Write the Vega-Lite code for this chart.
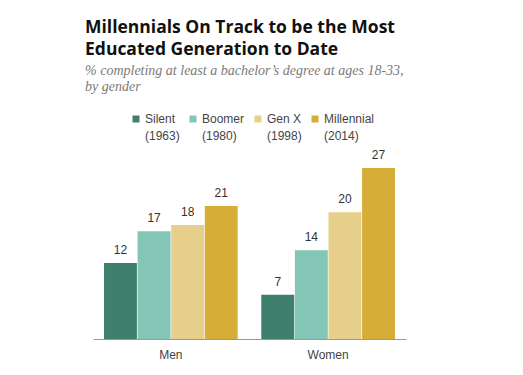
{
  "$schema": "https://vega.github.io/schema/vega-lite/v6.json",
  "width": 313,
  "height": 171,
  "autosize": "none",
  "padding": {"left": 93, "top": 168, "right": 117, "bottom": 36},
  "background": "white",
  "config": {"view": {"stroke": null}},
  "title": {
    "text": ["Millennials On Track to be the Most", "Educated Generation to Date"],
    "subtitle": ["% completing at least a bachelor’s degree at ages 18-33,", "by gender"],
    "anchor": "start",
    "frame": "group",
    "dx": -8,
    "offset": 19,
    "font": "Open Sans",
    "fontSize": 17.5,
    "fontWeight": "bold",
    "color": "#111111",
    "lineHeight": 22,
    "subtitleFont": "Liberation Serif",
    "subtitleFontStyle": "italic",
    "subtitleFontSize": 14,
    "subtitleColor": "#7a7a7a",
    "subtitleLineHeight": 16,
    "subtitlePadding": 6
  },
  "data": {
    "values": [
      {"gender": "Men", "gen": "Silent", "value": 12},
      {"gender": "Men", "gen": "Boomer", "value": 17},
      {"gender": "Men", "gen": "Gen X", "value": 18},
      {"gender": "Men", "gen": "Millennial", "value": 21},
      {"gender": "Women", "gen": "Silent", "value": 7},
      {"gender": "Women", "gen": "Boomer", "value": 14},
      {"gender": "Women", "gen": "Gen X", "value": 20},
      {"gender": "Women", "gen": "Millennial", "value": 27}
    ]
  },
  "encoding": {
    "x": {
      "field": "gender",
      "type": "nominal",
      "scale": {"paddingInner": 0.15, "paddingOuter": 0.07},
      "axis": {
        "title": null,
        "labelAngle": 0,
        "ticks": false,
        "labelPadding": 10,
        "labelFont": "Liberation Sans",
        "labelFontSize": 12,
        "labelColor": "#444444",
        "domainColor": "#9a9a9a",
        "domainWidth": 1
      }
    },
    "xOffset": {
      "field": "gen",
      "type": "nominal",
      "scale": {"domain": ["Silent", "Boomer", "Gen X", "Millennial"], "paddingInner": 0.02}
    },
    "y": {
      "field": "value",
      "type": "quantitative",
      "scale": {"domain": [0, 27]},
      "axis": null
    }
  },
  "layer": [
    {
      "mark": {"type": "bar"},
      "encoding": {
        "color": {
          "field": "gen",
          "type": "nominal",
          "scale": {
            "domain": ["Silent", "Boomer", "Gen X", "Millennial"],
            "range": ["#3f7f6e", "#83c6b6", "#e6cf8b", "#d6ae37"]
          },
          "legend": {
            "orient": "none",
            "legendX": 37,
            "legendY": -55,
            "direction": "horizontal",
            "title": null,
            "symbolType": "square",
            "symbolSize": 49,
            "symbolStrokeWidth": 0,
            "labelFont": "Liberation Sans",
            "labelFontSize": 12,
            "labelColor": "#444444",
            "labelOffset": 3,
            "columnPadding": 7,
            "labelExpr": "[datum.label, datum.label == 'Silent' ? '(1963)' : datum.label == 'Boomer' ? '(1980)' : datum.label == 'Gen X' ? '(1998)' : '(2014)']",
            "encode": {"labels": {"update": {"lineHeight": {"value": 17}}}}
          }
        }
      }
    },
    {
      "mark": {"type": "text", "baseline": "bottom", "dy": -6, "font": "Liberation Sans", "fontSize": 12, "color": "#333333"},
      "encoding": {
        "text": {"field": "value", "type": "quantitative"}
      }
    }
  ]
}
